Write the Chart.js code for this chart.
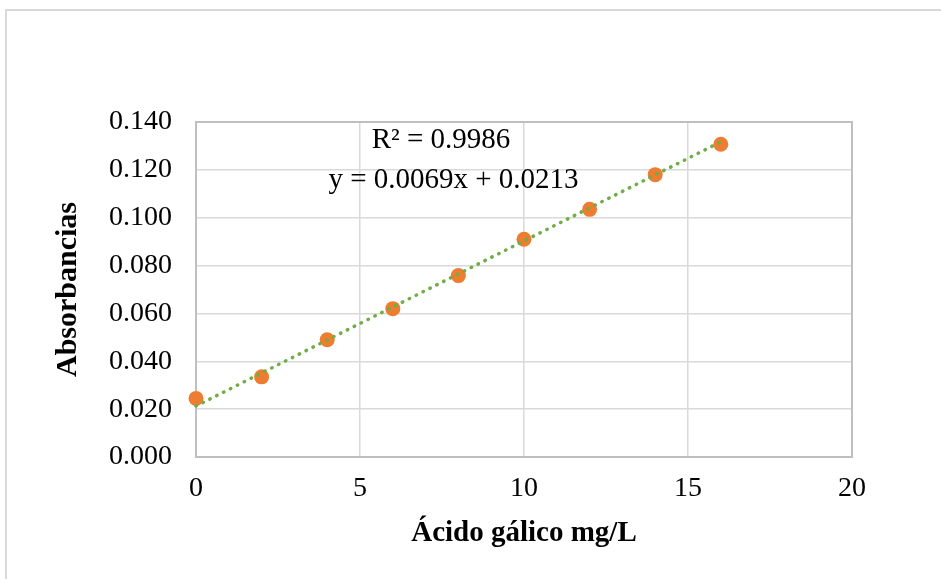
<!DOCTYPE html>
<html>
<head>
<meta charset="utf-8">
<script src="https://cdn.jsdelivr.net/npm/chart.js@4.4.1/dist/chart.umd.min.js"></script>
<style>
  body { margin: 0; background: #fff; }
  #wrap { position: relative; width: 941px; height: 579px; }
</style>
</head>
<body>
<div id="wrap"><canvas id="myChart" width="941" height="579"></canvas></div>
<script>
// Calibration curve data
const concentrations = [0, 2, 4, 6, 8, 10, 12, 14, 16];
const absorbances = [0.0245, 0.0335, 0.049, 0.062, 0.0758, 0.091, 0.1035, 0.118, 0.1307];
const xTicks = [0, 5, 10, 15, 20];
const yTicks = [0, 0.02, 0.04, 0.06, 0.08, 0.1, 0.12, 0.14];
const slope = [0.0069];
const intercept = [0.0213];
const rSquared = ['0.9986'];

const serif = "'Liberation Serif', 'Times New Roman', serif";

// trend line from the fitted equation, over the data range
const trendX = [concentrations[0], concentrations[concentrations.length - 1]];
const trendPoints = trendX.map(x => ({ x: x, y: slope[0] * x + intercept[0] }));

// frame round the whole chart + darker border round the plot
const frames = {
    id: 'frames',
    beforeDraw(chart) {
        const c = chart.ctx;
        c.save();
        c.strokeStyle = '#d9d9d9';
        c.lineWidth = 2;
        c.beginPath();
        c.moveTo(6, 700);
        c.lineTo(6, 10);
        c.lineTo(1000, 10);
        c.stroke();
        c.restore();
    },
    beforeDatasetsDraw(chart) {
        const a = chart.chartArea;
        const c = chart.ctx;
        c.save();
        c.strokeStyle = '#bfbfbf';
        c.lineWidth = 2;
        c.strokeRect(a.left, a.top, a.right - a.left, a.bottom - a.top);
        c.restore();
    }
};

// equation + R² labels
const equation = {
    id: 'equation',
    afterDatasetsDraw(chart) {
        const c = chart.ctx;
        const xs = chart.scales.x, ys = chart.scales.y;
        c.save();
        c.fillStyle = '#000';
        c.font = '29px ' + serif;
        c.textAlign = 'center';
        c.textBaseline = 'middle';
        c.fillText('R\u00b2 = ' + rSquared[0], xs.getPixelForValue(7.47), ys.getPixelForValue(0.1325));
        c.fillText('y = ' + slope[0] + 'x + ' + intercept[0], xs.getPixelForValue(7.85), ys.getPixelForValue(0.1155));
        c.restore();
    }
};

var ctx = document.getElementById('myChart').getContext('2d');

var myChart = new Chart(ctx, {
    type: 'scatter',
    data: {
        datasets: [{
            type: 'line',
            label: 'Lineal',
            data: trendPoints,
            borderColor: '#70AD47',
            borderWidth: 3.5,
            borderDash: [0.5, 7.2],
            borderCapStyle: 'round',
            pointRadius: 0,
            fill: false,
            clip: false,
            order: 0
        }, {
            label: 'Absorbancias',
            data: concentrations.map((x, i) => ({ x: x, y: absorbances[i] })),
            backgroundColor: '#ED7D31',
            borderWidth: 0,
            pointRadius: 7.5,
            clip: false,
            order: 1
        }]
    },
    options: {
        responsive: false,
        animation: false,
        layout: {
            padding: { top: 122, right: 89, left: 0, bottom: 0 }
        },
        plugins: {
            legend: { display: false },
            tooltip: { enabled: false }
        },
        scales: {
            x: {
                type: 'linear',
                min: 0,
                max: 20,
                afterFit: s => { s.height = 122; },
                afterBuildTicks: s => { s.ticks = xTicks.map(v => ({ value: v })); },
                ticks: {
                    color: '#000',
                    padding: 15,
                    font: { family: serif, size: 28 }
                },
                grid: { color: '#d9d9d9', lineWidth: 1.5, drawTicks: false },
                border: { display: false },
                title: {
                    display: true,
                    text: 'Ácido gálico mg/L',
                    color: '#000',
                    font: { family: serif, size: 29, weight: 'bold' },
                    padding: { top: 0, bottom: 28 }
                }
            },
            y: {
                min: 0,
                max: 0.14,
                afterFit: s => { s.width = 196; },
                afterBuildTicks: s => { s.ticks = yTicks.map(v => ({ value: v })); },
                ticks: {
                    color: '#000',
                    padding: 24,
                    font: { family: serif, size: 28 },
                    callback: v => v.toFixed(3)
                },
                grid: { color: '#d9d9d9', lineWidth: 1.5, drawTicks: false },
                border: { display: false },
                title: {
                    display: true,
                    text: 'Absorbancias',
                    color: '#000',
                    font: { family: serif, size: 30, weight: 'bold' },
                    padding: { top: 50, bottom: 0 }
                }
            }
        }
    },
    plugins: [frames, equation]
});
</script>
</body>
</html>
